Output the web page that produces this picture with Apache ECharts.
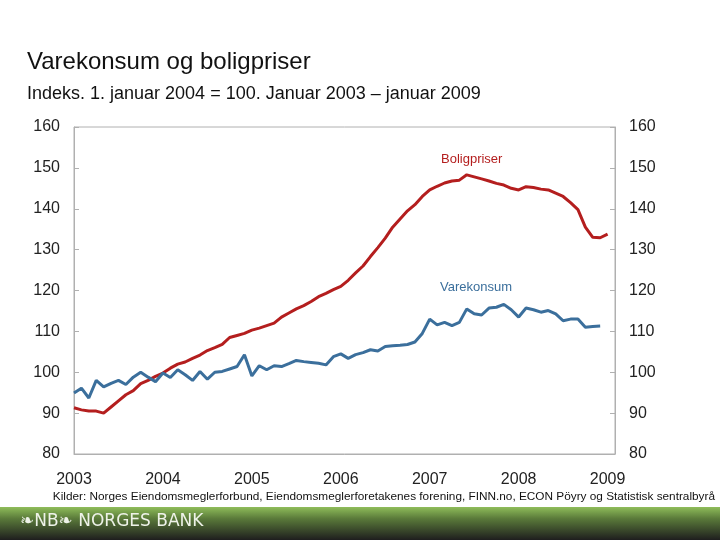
<!DOCTYPE html>
<html>
<head>
<meta charset="utf-8">
<script src="https://cdn.jsdelivr.net/npm/echarts@6/dist/echarts.min.js"></script>
<style>
  html, body { margin: 0; padding: 0; background: #fff; }
  #chart { width: 720px; height: 540px; }
</style>
</head>
<body>
<div id="chart"></div>
<script>
// månedlige tall, jan 2003 -> jan 2009
const years = ['2003', '2004', '2005', '2006', '2007', '2008', '2009'];
const boligpriser = [
  91.3, 90.8, 90.5, 90.5, 90.0, 91.5, 93.0, 94.5, 95.5, 97.2, 98.0, 99.0,
  99.8, 101.0, 102.0, 102.5, 103.4, 104.2, 105.3, 106.0, 106.8, 108.5, 109.0, 109.5,
  110.3, 110.8, 111.4, 112.0, 113.5, 114.5, 115.5, 116.3, 117.3, 118.5, 119.3, 120.2,
  121.0, 122.5, 124.3, 126.0, 128.3, 130.5, 132.8, 135.5, 137.5, 139.5, 141.0, 143.0,
  144.6, 145.5, 146.3, 146.8, 147.0, 148.3, 147.8, 147.3, 146.8, 146.2, 145.8, 145.0,
  144.6, 145.4, 145.2, 144.8, 144.6, 143.8, 143.0, 141.5, 139.8, 135.5, 133.0, 132.9,
  133.8
];
const varekonsum = [
  94.9, 96.1, 93.7, 98.0, 96.4, 97.3, 98.0, 97.0, 98.8, 100.0, 98.8, 97.7,
  99.8, 98.7, 100.6, 99.4, 98.0, 100.2, 98.3, 100.0, 100.2, 100.8, 101.4, 104.3,
  99.1, 101.6, 100.6, 101.6, 101.4, 102.1, 102.9, 102.6, 102.4, 102.2, 101.8, 103.8,
  104.5, 103.4, 104.3, 104.8, 105.5, 105.2, 106.3, 106.5, 106.6, 106.8, 107.4, 109.5,
  113.0, 111.6, 112.2, 111.4, 112.2, 115.5, 114.3, 114.0, 115.7, 115.9, 116.6, 115.3,
  113.5, 115.7, 115.3, 114.7, 115.1, 114.3, 112.6, 113.0, 113.0, 111.0, 111.2, 111.3
];

const RED = '#B41E1E';
const BLUE = '#3B6F9C';
const font = 'Liberation Sans, Arial, sans-serif';

const chart = echarts.init(document.getElementById('chart'));

const yAxisBase = {
  type: 'value',
  min: 80,
  max: 160,
  interval: 10,
  axisLine: { show: true, lineStyle: { color: '#b0b0b0' } },
  axisTick: { show: true, inside: true, length: 5, lineStyle: { color: '#b0b0b0' } },
  splitLine: { show: false },
  axisLabel: { color: '#222', fontSize: 16, fontFamily: font, margin: 14 }
};

chart.setOption({
  animation: false,
  title: [
    { text: 'Varekonsum og boligpriser', left: 22, top: 45,
      textStyle: { fontSize: 24, fontWeight: 'normal', color: '#111', fontFamily: font } },
    { text: 'Indeks. 1. januar 2004 = 100. Januar 2003 – januar 2009', left: 22, top: 80,
      textStyle: { fontSize: 18, fontWeight: 'normal', color: '#111', fontFamily: font } }
  ],
  grid: { left: 74, right: 105, top: 127, bottom: 86, show: true, borderColor: '#b0b0b0', borderWidth: 1 },
  xAxis: {
    type: 'value',
    min: 0,
    max: 73,
    interval: 12,
    axisLine: { show: true, lineStyle: { color: '#b0b0b0' } },
    axisTick: { show: false },
    splitLine: { show: false },
    axisLabel: {
      color: '#222', fontSize: 16, fontFamily: font, margin: 18,
      showMaxLabel: false,
      formatter: v => years[v / 12] || ''
    }
  },
  yAxis: [
    Object.assign({}, yAxisBase, { position: 'left' }),
    Object.assign({}, yAxisBase, { position: 'right' })
  ],
  series: [
    {
      name: 'Boligpriser', type: 'line', showSymbol: false,
      lineStyle: { color: RED, width: 3 },
      data: boligpriser.map((v, i) => [i, v])
    },
    {
      name: 'Varekonsum', type: 'line', showSymbol: false,
      lineStyle: { color: BLUE, width: 3 },
      data: varekonsum.map((v, i) => [i, v])
    }
  ],
  graphic: [
    { type: 'text', left: 441, top: 153,
      style: { text: 'Boligpriser', fill: RED, fontSize: 13, fontFamily: font } },
    { type: 'text', left: 440, top: 281,
      style: { text: 'Varekonsum', fill: BLUE, fontSize: 13, fontFamily: font } },
    { type: 'text', right: 5, top: 491,
      style: { text: 'Kilder: Norges Eiendomsmeglerforbund, Eiendomsmeglerforetakenes forening, FINN.no, ECON Pöyry og Statistisk sentralbyrå',
               fill: '#111', fontSize: 11.8, fontFamily: font } },
    { type: 'rect', left: 0, top: 507, shape: { width: 720, height: 33 },
      style: { fill: new echarts.graphic.LinearGradient(0, 0, 0, 1, [
        { offset: 0, color: '#8fbd5a' }, { offset: 0.35, color: '#5a7a3a' }, { offset: 1, color: '#1e1e1e' }]) } },
    { type: 'text', left: 20, top: 513,
      style: { text: '❧NB❧ NORGES BANK', fill: '#eef2e8', fontSize: 17, fontFamily: 'DejaVu Sans, sans-serif' } }
  ]
});
</script>
</body>
</html>
